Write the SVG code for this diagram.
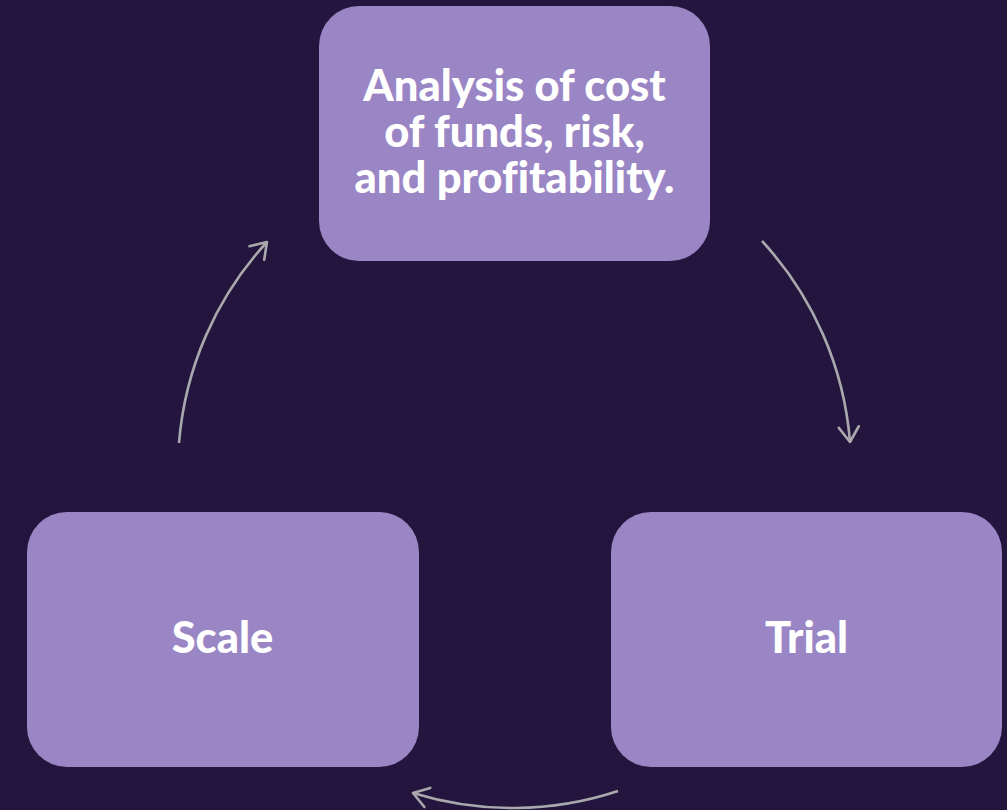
<svg xmlns="http://www.w3.org/2000/svg" width="1007" height="810" viewBox="0 0 1007 810">
  <style>
    .box { fill: #9a86c5; }
    .label { fill: #ffffff; font-family: Lato, "Noto Sans", sans-serif; font-weight: 900; font-size: 43.5px; text-anchor: middle; font-variant-ligatures: none; }
    .link { fill: none; stroke: #a9a9ad; stroke-width: 2.6; marker-end: url(#head); }
  </style>
  <defs>
    <marker id="head" markerUnits="userSpaceOnUse" viewBox="-20 -12 24 24" markerWidth="24" markerHeight="24" refX="0" refY="0" orient="auto">
      <path d="M-15,-10 L0,0 L-15,10" fill="none" stroke="#a9a9ad" stroke-width="2.6" stroke-linecap="round" stroke-linejoin="round"/>
    </marker>
  </defs>
  <rect width="1007" height="810" fill="#23153d"/>

  <g id="connectors">
    <path class="link" d="M179,443 A336,336 0 0 1 267,242"/>
    <path class="link" d="M762,241 A336,336 0 0 1 850,442"/>
    <path class="link" d="M618,791 A336,336 0 0 1 413,793"/>
  </g>

  <g id="analysis">
    <rect class="box" x="319" y="6" width="391" height="255" rx="40"/>
    <text class="label" x="514.5" y="101"><tspan x="514.5" y="101">Analysis of cost</tspan><tspan x="514.5" y="147">of funds, risk,</tspan><tspan x="514.5" y="193">and profitability.</tspan></text>
  </g>

  <g id="trial">
    <rect class="box" x="611" y="512" width="391" height="255" rx="40"/>
    <text class="label" x="806.5" y="653">Trial</text>
  </g>

  <g id="scale">
    <rect class="box" x="27" y="512" width="392" height="255" rx="40"/>
    <text class="label" x="222.5" y="653">Scale</text>
  </g>
</svg>
